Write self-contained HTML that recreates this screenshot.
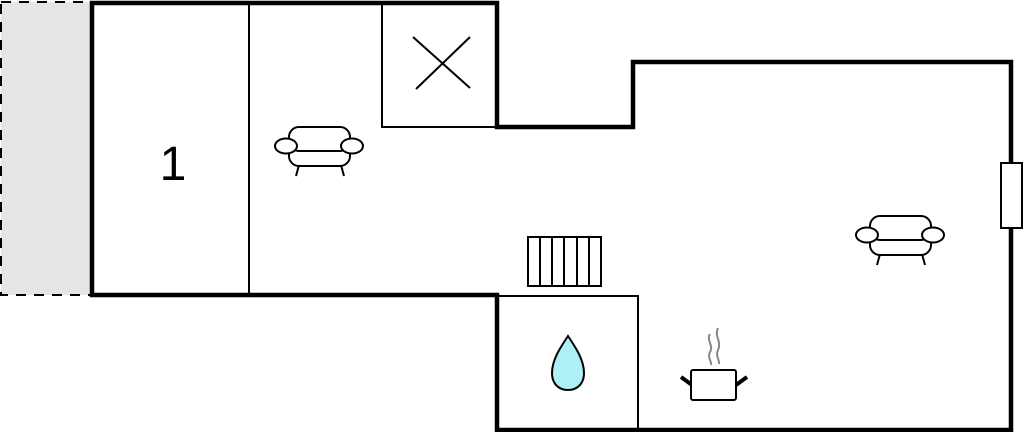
<!DOCTYPE html>
<html><head><style>html,body{margin:0;padding:0;background:#fff;}svg{display:block}</style></head>
<body>
<svg width="1024" height="432" viewBox="0 0 1024 432" xmlns="http://www.w3.org/2000/svg">
<rect x="1" y="2" width="91" height="293" fill="#e5e5e5" stroke="#000" stroke-width="2" stroke-dasharray="10,8"/>
<!-- thin interior lines -->
<g stroke="#000" stroke-width="2" fill="none">
<line x1="249" y1="3" x2="249" y2="295"/>
<polyline points="382,3 382,127 497,127"/>
<polyline points="497,296 638,296 638,430"/>
<line x1="413" y1="37" x2="470" y2="88"/>
<line x1="416" y1="89" x2="470" y2="37"/>
</g>
<!-- outer walls -->
<path d="M92,3 L497,3 L497,127 L633,127 L633,62 L1011,62 L1011,430 L497,430 L497,295 L92,295 Z" fill="none" stroke="#000" stroke-width="4.5" stroke-linejoin="miter"/>
<rect x="1001" y="163" width="21" height="65" fill="#fff" stroke="#000" stroke-width="2"/>
<text x="173" y="180" font-family="Liberation Sans, sans-serif" font-size="48" text-anchor="middle">1</text>
<!-- sofa 1 -->
<g id="s1" fill="#fff" stroke="#000" stroke-width="2">
<line x1="299" y1="165" x2="296" y2="176"/><line x1="341" y1="165" x2="344" y2="176"/>
<rect x="289" y="141" width="61" height="25" rx="10"/>
<rect x="289" y="127" width="61" height="24" rx="10"/>
<ellipse cx="286" cy="146" rx="11" ry="7.5"/>
<ellipse cx="352" cy="146" rx="11" ry="7.5"/>
</g>
<use href="#s1" transform="translate(581,89)"/>
<!-- radiator -->
<g fill="none" stroke="#000" stroke-width="2">
<rect x="528" y="237" width="73" height="49" fill="#fff"/>
<line x1="540" y1="237" x2="540" y2="286"/><line x1="552" y1="237" x2="552" y2="286"/>
<line x1="564" y1="237" x2="564" y2="286"/><line x1="577" y1="237" x2="577" y2="286"/>
<line x1="589" y1="237" x2="589" y2="286"/>
</g>
<!-- drop -->
<path d="M568,336 C560,348 552,360 552,373 C552,384 559,390 568,390 C577,390 584,384 584,373 C584,360 576,348 568,336 Z" fill="#aef0f6" stroke="#000" stroke-width="2"/>
<!-- pot -->
<g stroke="#000" fill="#fff">
<line x1="681" y1="377" x2="692" y2="385" stroke-width="4"/>
<line x1="747" y1="377" x2="736" y2="385" stroke-width="4"/>
<rect x="691" y="370" width="45" height="30" rx="2" stroke-width="2"/>
</g>
<g stroke="#888" stroke-width="2" fill="none">
<path d="M710,334 C706,340 714,346 710,352 C707,357 712,362 711,365"/>
<path d="M718,328 C714,336 722,342 718,350 C715,356 720,360 719,364"/>
</g>
</svg>
</body></html>
